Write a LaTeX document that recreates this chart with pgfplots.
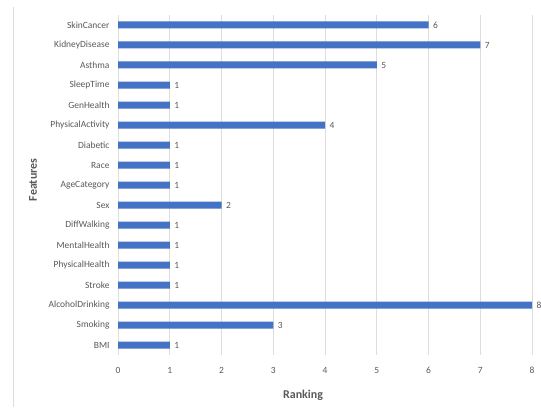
\documentclass[border=0pt]{standalone}
\usepackage{pgfplots}
\pgfplotsset{compat=1.18}
\usepackage{fontspec}
\setmainfont{Carlito}

\definecolor{barblue}{HTML}{4472C4}
\definecolor{gridgray}{HTML}{DDDDDD}
\definecolor{labelgray}{HTML}{595959}

% feature index, ranking
\pgfplotstableread{
idx rank
0  1
1  3
2  8
3  1
4  1
5  1
6  1
7  2
8  1
9  1
10 1
11 4
12 1
13 1
14 5
15 7
16 6
}\ranking

\begin{document}
\begin{tikzpicture}[x=1bp,y=1bp]
\path[use as bounding box] (0,0) rectangle (541,407);
\draw[gridgray, line width=0.75bp] (13,0) -- (13,400);
\begin{axis}[
  at={(118bp,52bp)}, anchor=south west,
  scale only axis, width=414bp, height=340bp,
  xbar, bar width=7bp,
  xmin=0, xmax=8, ymin=-0.5, ymax=16.5,
  xtick={0,...,8},
  ytick={0,...,16},
  yticklabels={BMI,Smoking,AlcoholDrinking,Stroke,PhysicalHealth,MentalHealth,DiffWalking,Sex,AgeCategory,Race,Diabetic,PhysicalActivity,GenHealth,SleepTime,Asthma,KidneyDisease,SkinCancer},
  axis line style={draw=none},
  major tick length=0pt,
  xmajorgrids,
  grid style={gridgray, line width=0.75bp},
  tick label style={font=\fontsize{9.5}{11}\selectfont, text=labelgray},
  /pgf/number format/assume math mode=true,
  xticklabel style={yshift=-9bp},
  yticklabel style={xshift=-5bp},
  xlabel={Ranking},
  ylabel={Features},
  label style={font=\fontsize{12}{14}\selectfont\bfseries, text=labelgray},
  xlabel style={at={(axis description cs:0.447,0)}, anchor=center, yshift=-40bp},
  ylabel style={at={(axis description cs:0,0.515)}, anchor=center, yshift=85bp},
  nodes near coords,
  point meta=x,
  nodes near coords style={font=\fontsize{9.5}{11}\selectfont, text=labelgray, xshift=1bp},
]
\addplot[fill=barblue, draw=none] table[x=rank, y=idx] {\ranking};
\end{axis}
\end{tikzpicture}
\end{document}
